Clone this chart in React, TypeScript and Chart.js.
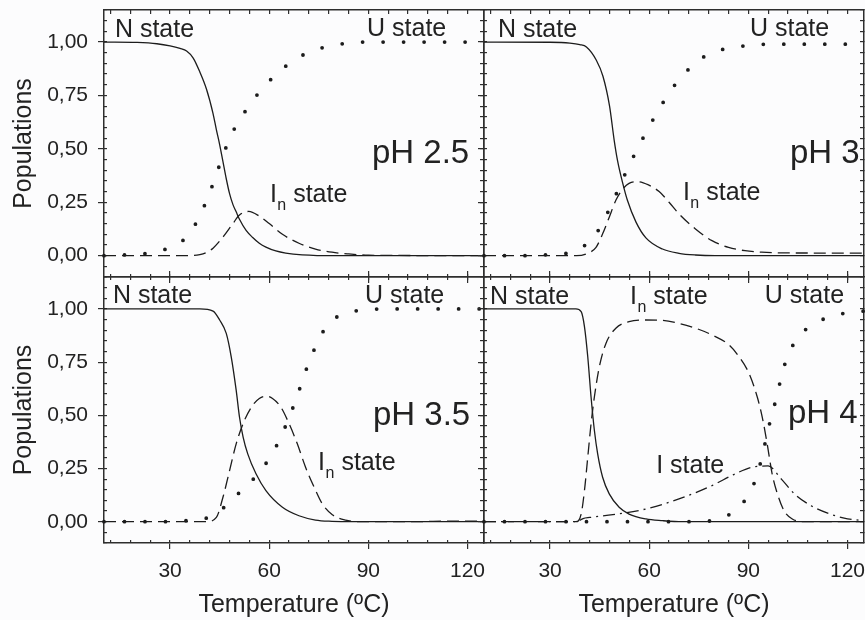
import React, { useEffect, useRef } from "react";
import { Chart, registerables } from "chart.js";

Chart.register(...registerables);

// ---------- axis definitions ----------
const T_MIN = 10;
const T_MAX = 125;
const P_MIN = -0.1;
const P_MAX = 1.15;
const xMajorTicks = [30, 60, 90, 120];
const xTickLabels = ["30", "60", "90", "120"];
const xMinorTicks = [12, 18, 24, 30, 36, 42, 48, 54, 60, 66, 72, 78, 84, 90, 96, 102, 108, 114, 120];
const yMajorTicks = [0, 0.25, 0.5, 0.75, 1];
const yTickLabels = ["0,00", "0,25", "0,50", "0,75", "1,00"];
const yMinorTicks = [-0.1, -0.05, 0, 0.05, 0.1, 0.15, 0.2, 0.25, 0.3, 0.35, 0.4, 0.45, 0.5, 0.55, 0.6, 0.65, 0.7, 0.75, 0.8, 0.85, 0.9, 0.95, 1, 1.05, 1.1, 1.15];
const xTitle = "Temperature (ºC)";
const yTitle = "Populations";

// ---------- pH 2.5 ----------
const n25T = [10, 20, 26, 30, 33, 35, 37, 39, 41, 43, 44, 45, 46, 47, 48, 49, 50, 51, 53, 55, 57, 59, 62, 65, 70, 80, 125];
const n25 = [1, 0.998, 0.992, 0.982, 0.97, 0.958, 0.925, 0.86, 0.78, 0.665, 0.59, 0.52, 0.44, 0.36, 0.29, 0.24, 0.205, 0.17, 0.118, 0.085, 0.058, 0.04, 0.022, 0.012, 0.004, 0, 0];
const in25T = [10, 36, 39, 41, 43, 46, 49, 51, 53.8, 57, 60, 64, 69, 74, 79, 84, 90, 125];
const in25 = [0, 0, 0.005, 0.015, 0.035, 0.087, 0.15, 0.19, 0.207, 0.185, 0.15, 0.1, 0.058, 0.031, 0.016, 0.008, 0.002, 0];
const u25T = [10, 16, 22, 28, 33, 36.6, 39.4, 42, 44.2, 46.5, 49, 52, 55.3, 59, 62.8, 67, 71.6, 76.8, 82.7, 89, 125];
const u25 = [0, 0.003, 0.008, 0.027, 0.06, 0.12, 0.2, 0.295, 0.39, 0.49, 0.58, 0.658, 0.732, 0.8, 0.859, 0.909, 0.95, 0.976, 0.993, 1, 1];

// ---------- pH 3 ----------
const n3T = [10, 30, 36, 39, 41, 44, 46, 48, 49.4, 50.4, 51.9, 53.4, 56, 59, 64, 69, 74, 80, 125];
const n3 = [1, 0.999, 0.995, 0.988, 0.977, 0.915, 0.84, 0.7, 0.54, 0.446, 0.344, 0.259, 0.157, 0.083, 0.031, 0.011, 0.003, 0, 0];
const in3T = [10, 38, 40.9, 43.9, 45.9, 47.9, 49.9, 51.9, 53.9, 56.7, 59.9, 63, 66, 69, 74, 79, 84, 89, 94, 104, 125];
const in3 = [0, 0, 0.008, 0.039, 0.102, 0.18, 0.259, 0.31, 0.338, 0.346, 0.33, 0.3, 0.25, 0.196, 0.125, 0.07, 0.039, 0.023, 0.016, 0.0125, 0.012];
const u3T = [10, 22.7, 28.8, 34.8, 40, 43.9, 46.9, 49.6, 52.2, 54.8, 57.8, 60.7, 63.7, 66.8, 70.3, 74.5, 79.1, 84.4, 90.1, 96.2, 125];
const u3 = [0, 0, 0.004, 0.01, 0.042, 0.102, 0.185, 0.274, 0.365, 0.45, 0.541, 0.624, 0.704, 0.779, 0.846, 0.909, 0.951, 0.972, 0.984, 0.99, 0.99];

// ---------- pH 3.5 ----------
const n35T = [10, 39, 43, 45, 47, 48.5, 50, 51, 52.1, 53.5, 56, 59, 64, 69, 74, 79, 85, 125];
const n35 = [1, 1, 0.99, 0.948, 0.885, 0.775, 0.618, 0.492, 0.398, 0.319, 0.225, 0.146, 0.068, 0.028, 0.008, 0.002, 0, 0];
const in35T = [10, 41, 44, 46, 48, 50, 52.5, 55, 57, 59, 61, 63.5, 66, 68.5, 71, 73.6, 76.1, 79.1, 83.1, 88, 105, 112, 125];
const in35 = [0, 0, 0.02, 0.115, 0.24, 0.366, 0.476, 0.547, 0.579, 0.59, 0.579, 0.539, 0.461, 0.366, 0.256, 0.162, 0.083, 0.033, 0.008, 0, 0, 0.003, 0.003];
const u35T = [10, 28.8, 35.1, 40.8, 45.5, 49.5, 53.5, 57.3, 60.5, 63.4, 65.9, 68.3, 70.4, 72.8, 75.3, 78.4, 83.1, 88.9, 95, 125];
const u35 = [0, 0, 0.005, 0.016, 0.057, 0.115, 0.175, 0.236, 0.311, 0.393, 0.487, 0.582, 0.681, 0.778, 0.866, 0.937, 0.98, 0.995, 1, 1];

// ---------- pH 4 ----------
const n4T = [10, 37.8, 39.4, 40.4, 41.4, 42.4, 43.4, 44.4, 45.9, 47.9, 50.9, 53.9, 59, 64, 70, 125];
const n4 = [1, 1, 0.987, 0.917, 0.775, 0.586, 0.43, 0.319, 0.209, 0.131, 0.068, 0.036, 0.013, 0.005, 0, 0];
const in4T = [10, 37.8, 39.4, 40.4, 41.4, 42.4, 43.4, 44.9, 46.9, 49.9, 53.9, 59, 64, 69, 74.1, 79.1, 84.2, 87.2, 90.2, 92.7, 94.2, 95.7, 97.2, 98.8, 100.8, 103.3, 107.3, 125];
const in4 = [0, 0, 0.036, 0.146, 0.303, 0.461, 0.586, 0.728, 0.838, 0.909, 0.94, 0.948, 0.946, 0.932, 0.909, 0.877, 0.83, 0.775, 0.697, 0.586, 0.492, 0.366, 0.225, 0.131, 0.052, 0.013, 0, 0];
const i4T = [10, 38, 40, 42, 49, 59, 69, 79, 86, 91, 96, 100, 104, 109, 114, 119, 124];
const i4 = [0, 0, 0.015, 0.02, 0.033, 0.06, 0.107, 0.17, 0.225, 0.256, 0.262, 0.2, 0.13, 0.075, 0.04, 0.017, 0.006];
const u4T = [10, 73.3, 79.3, 84.5, 88.5, 91.6, 93.6, 95.1, 96.6, 98.3, 99.8, 101.6, 104.5, 108.5, 114.3, 120.5, 125];
const u4 = [0, 0, 0.006, 0.036, 0.091, 0.175, 0.272, 0.371, 0.472, 0.571, 0.668, 0.767, 0.854, 0.917, 0.961, 0.983, 0.99];

// ---------- styling ----------
const FONT = '"Liberation Sans", Arial, Helvetica, sans-serif';
const AXIS_COLOR = "#2e2e2e";
const LINE_COLOR = "#1c1c1c";
const TEXT_COLOR = "#222222";
const BG = "#fcfcfd";

type LineStyle = "solid" | "dash" | "dashdot" | "dot";
type Series = { t: number[]; v: number[]; style: LineStyle };
type Label = { text: string; sub?: string; rest?: string; t: number; p: number; size: number };
type Panel = {
  id: string;
  showX: boolean;
  showY: boolean;
  pad: { left: number; right: number; top: number; bottom: number };
  topTickLen: number;
  topMajorOut: boolean;
  series: Series[];
  labels: Label[];
};

const STATE_SIZE = 25;
const PH_SIZE = 33;
const TICK_SIZE = 21;
const TITLE_SIZE = 25;

const PANELS: Panel[] = [
  {
    id: "ph25",
    showX: false,
    showY: true,
    pad: { left: 0, right: 381, top: 10, bottom: 343 },
    topTickLen: -4,
    topMajorOut: false,
    series: [
      { t: n25T, v: n25, style: "solid" },
      { t: in25T, v: in25, style: "dash" },
      { t: u25T, v: u25, style: "dot" },
    ],
    labels: [
      { text: "N state", t: 13.3, p: 1.022, size: STATE_SIZE },
      { text: "U state", t: 89.6, p: 1.028, size: STATE_SIZE },
      { text: "pH 2.5", t: 91.1, p: 0.434, size: PH_SIZE },
      { text: "I", sub: "n", rest: " state", t: 60.2, p: 0.252, size: STATE_SIZE },
    ],
  },
  {
    id: "ph3",
    showX: false,
    showY: false,
    pad: { left: 484, right: 1, top: 10, bottom: 343 },
    topTickLen: -4,
    topMajorOut: false,
    series: [
      { t: n3T, v: n3, style: "solid" },
      { t: in3T, v: in3, style: "dash" },
      { t: u3T, v: u3, style: "dot" },
    ],
    labels: [
      { text: "N state", t: 14.2, p: 1.023, size: STATE_SIZE },
      { text: "U state", t: 90.5, p: 1.028, size: STATE_SIZE },
      { text: "pH 3", t: 102.6, p: 0.434, size: PH_SIZE },
      { text: "I", sub: "n", rest: " state", t: 70.2, p: 0.26, size: STATE_SIZE },
    ],
  },
  {
    id: "ph35",
    showX: true,
    showY: true,
    pad: { left: 0, right: 381, top: 277, bottom: 0 },
    topTickLen: -3,
    topMajorOut: true,
    series: [
      { t: n35T, v: n35, style: "solid" },
      { t: in35T, v: in35, style: "dash" },
      { t: u35T, v: u35, style: "dot" },
    ],
    labels: [
      { text: "N state", t: 12.7, p: 1.028, size: STATE_SIZE },
      { text: "U state", t: 89.0, p: 1.028, size: STATE_SIZE },
      { text: "pH 3.5", t: 91.4, p: 0.454, size: PH_SIZE },
      { text: "I", sub: "n", rest: " state", t: 74.8, p: 0.243, size: STATE_SIZE },
    ],
  },
  {
    id: "ph4",
    showX: true,
    showY: false,
    pad: { left: 484, right: 1, top: 277, bottom: 0 },
    topTickLen: -3,
    topMajorOut: true,
    series: [
      { t: n4T, v: n4, style: "solid" },
      { t: in4T, v: in4, style: "dash" },
      { t: i4T, v: i4, style: "dashdot" },
      { t: u4T, v: u4, style: "dot" },
    ],
    labels: [
      { text: "N state", t: 11.8, p: 1.023, size: STATE_SIZE },
      { text: "I", sub: "n", rest: " state", t: 54.2, p: 1.023, size: STATE_SIZE },
      { text: "U state", t: 95.0, p: 1.028, size: STATE_SIZE },
      { text: "pH 4", t: 102.0, p: 0.464, size: PH_SIZE },
      { text: "I state", t: 62.1, p: 0.229, size: STATE_SIZE },
    ],
  },
];

// ---------- helpers ----------
function setTicks(values: number[]) {
  return (axis: any) => {
    axis.ticks = values.map((v) => ({ value: v }));
  };
}

function fixSize(size: number, horizontal: boolean) {
  return (axis: any) => {
    if (horizontal) axis.height = size;
    else axis.width = size;
    axis.paddingLeft = 0;
    axis.paddingRight = 0;
    axis.paddingTop = 0;
    axis.paddingBottom = 0;
  };
}

function tickAxis(position: string, values: number[], tickLength: number, showBorder: boolean, weight: number) {
  const horizontal = position === "top" || position === "bottom";
  return {
    type: "linear",
    position,
    weight,
    bounds: "data",
    min: horizontal ? T_MIN : P_MIN,
    max: horizontal ? T_MAX : P_MAX,
    afterBuildTicks: setTicks(values),
    afterFit: fixSize(0, horizontal),
    ticks: { display: false },
    grid: {
      display: true,
      drawOnChartArea: false,
      drawTicks: true,
      tickLength,
      color: AXIS_COLOR,
      lineWidth: 1.2,
    },
    border: { display: showBorder, color: AXIS_COLOR, width: 1.5 },
  };
}

function styleFor(style: LineStyle) {
  switch (style) {
    case "dash":
      return { borderDash: [12, 6], borderWidth: 1.3, borderCapStyle: "butt" };
    case "dashdot":
      return { borderDash: [12, 5, 2, 5], borderWidth: 1.3, borderCapStyle: "butt" };
    case "dot":
      return { borderDash: [0, 20.5], borderWidth: 3.8, borderCapStyle: "round" };
    default:
      return { borderDash: [], borderWidth: 1.3, borderCapStyle: "butt" };
  }
}

function labelPlugin(labels: Label[]) {
  return {
    id: "panelLabels",
    afterDatasetsDraw(chart: any) {
      const ctx = chart.ctx;
      const xs = chart.scales.x;
      const ys = chart.scales.y;
      ctx.save();
      ctx.fillStyle = TEXT_COLOR;
      ctx.textBaseline = "alphabetic";
      ctx.textAlign = "left";
      for (const l of labels) {
        const x = xs.getPixelForValue(l.t);
        const y = ys.getPixelForValue(l.p);
        ctx.font = `${l.size}px ${FONT}`;
        ctx.fillText(l.text, x, y);
        if (l.sub) {
          let w = ctx.measureText(l.text).width;
          const subSize = Math.round(l.size * 0.62);
          ctx.font = `${subSize}px ${FONT}`;
          ctx.fillText(l.sub, x + w + 0.5, y + 8);
          w += ctx.measureText(l.sub).width + 0.5;
          ctx.font = `${l.size}px ${FONT}`;
          ctx.fillText(l.rest || "", x + w, y);
        }
      }
      ctx.restore();
    },
  };
}

function buildConfig(panel: Panel): any {
  const datasets = panel.series.map((s, i) => ({
    label: `${panel.id}-${i}`,
    data: s.t.map((t, k) => ({ x: t, y: s.v[k] })),
    borderColor: LINE_COLOR,
    backgroundColor: LINE_COLOR,
    pointRadius: 0,
    fill: false,
    cubicInterpolationMode: "monotone",
    clip: 8,
    xAxisID: "x",
    yAxisID: "y",
    ...styleFor(s.style),
  }));

  const scales: any = {
    x: {
      type: "linear",
      position: "bottom",
      weight: 5,
      bounds: "data",
      min: T_MIN,
      max: T_MAX,
      afterBuildTicks: setTicks(xMajorTicks),
      afterFit: fixSize(panel.showX ? 77 : 0, true),
      ticks: {
        display: panel.showX,
        autoSkip: false,
        maxRotation: 0,
        minRotation: 0,
        padding: 10,
        color: TEXT_COLOR,
        font: { family: FONT, size: TICK_SIZE },
        callback: (v: any) => {
          const i = xMajorTicks.indexOf(Number(v));
          return i >= 0 ? xTickLabels[i] : "";
        },
      },
      grid: { display: true, drawOnChartArea: false, drawTicks: true, tickLength: 6, color: AXIS_COLOR, lineWidth: 1.2 },
      border: { display: true, color: AXIS_COLOR, width: 1.5 },
      title: {
        display: panel.showX,
        text: xTitle,
        color: TEXT_COLOR,
        font: { family: FONT, size: TITLE_SIZE },
        padding: { top: 0, bottom: 0 },
      },
    },
    y: {
      type: "linear",
      position: "left",
      weight: 5,
      bounds: "data",
      min: P_MIN,
      max: P_MAX,
      afterBuildTicks: setTicks(yMajorTicks),
      afterFit: fixSize(panel.showY ? 104 : 0, false),
      ticks: {
        display: panel.showY,
        autoSkip: false,
        padding: 10,
        color: TEXT_COLOR,
        font: { family: FONT, size: TICK_SIZE },
        callback: (v: any) => {
          const i = yMajorTicks.findIndex((m) => Math.abs(m - Number(v)) < 1e-6);
          return i >= 0 ? yTickLabels[i] : "";
        },
      },
      grid: { display: true, drawOnChartArea: false, drawTicks: true, tickLength: 6, color: AXIS_COLOR, lineWidth: 1.2 },
      border: { display: true, color: AXIS_COLOR, width: 1.5 },
      title: {
        display: panel.showY,
        text: yTitle,
        color: TEXT_COLOR,
        font: { family: FONT, size: TITLE_SIZE },
        padding: { top: 9, bottom: 0 },
      },
    },
    xMinB: tickAxis("bottom", xMinorTicks, -3, false, 0),
    xMinT: tickAxis("top", xMinorTicks, panel.topTickLen, true, 0),
    yMinL: tickAxis("left", yMinorTicks, -3, false, 0),
    yRight: tickAxis("right", yMinorTicks, -4, true, 0),
  };
  if (panel.topMajorOut) {
    scales.xMajT = tickAxis("top", xMajorTicks, 6, false, 1);
  }

  return {
    type: "line",
    data: { datasets },
    options: {
      responsive: false,
      maintainAspectRatio: false,
      animation: false,
      devicePixelRatio: 1,
      events: [],
      layout: { padding: panel.pad },
      plugins: {
        legend: { display: false },
        tooltip: { enabled: false },
        title: { display: false },
      },
      scales,
    },
    plugins: [labelPlugin(panel.labels)],
  };
}

export default function App() {
  const canvases = useRef<(HTMLCanvasElement | null)[]>([]);

  useEffect(() => {
    Chart.defaults.font.family = FONT;
    const charts = PANELS.map((p, i) => new Chart(canvases.current[i] as HTMLCanvasElement, buildConfig(p)));
    return () => {
      charts.forEach((c) => c.destroy());
    };
  }, []);

  return (
    <div
      style={{
        position: "absolute",
        left: 0,
        top: 0,
        width: 865,
        height: 620,
        background: BG,
        overflow: "hidden",
      }}
    >
      {PANELS.map((p, i) => (
        <canvas
          key={p.id}
          ref={(el) => {
            canvases.current[i] = el;
          }}
          width={865}
          height={620}
          style={{ position: "absolute", left: 0, top: 0, width: 865, height: 620 }}
        />
      ))}
    </div>
  );
}
